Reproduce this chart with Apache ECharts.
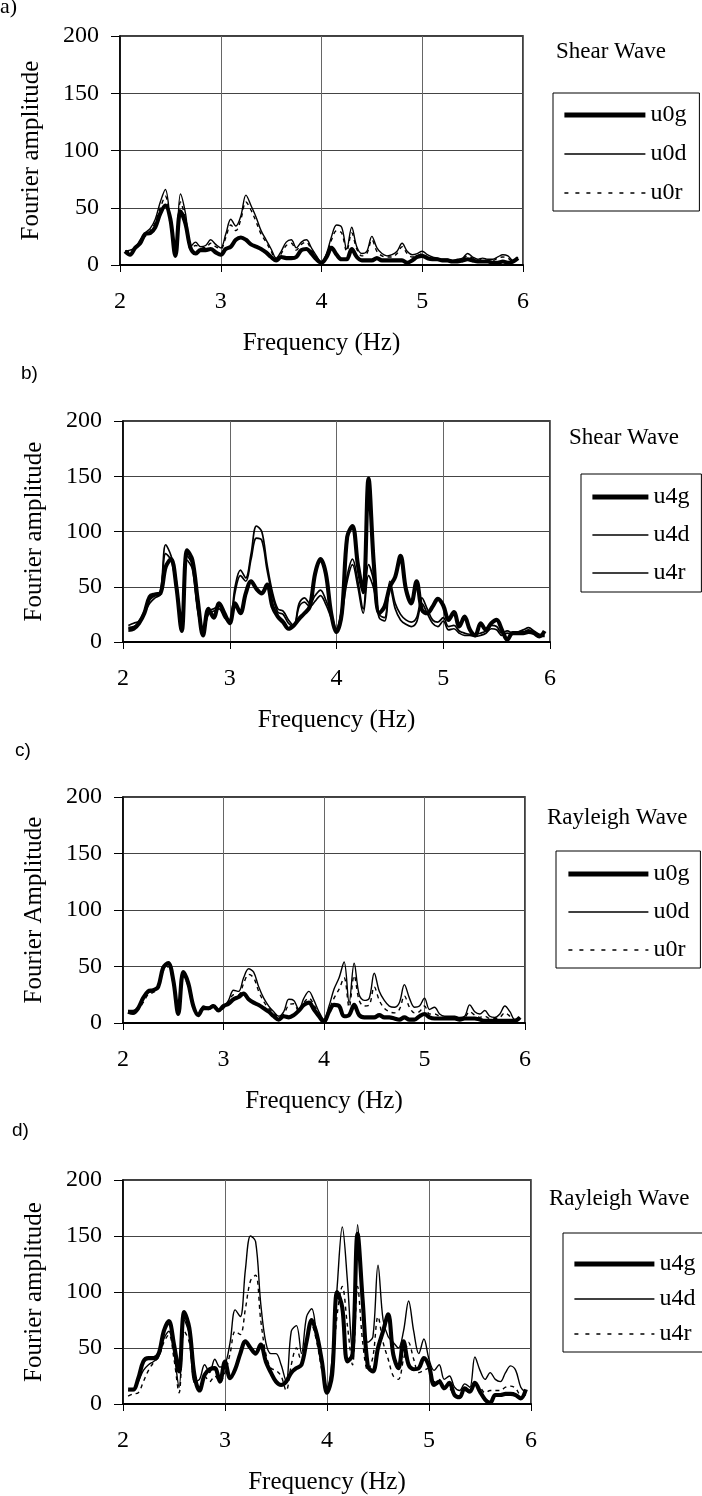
<!DOCTYPE html>
<html>
<head>
<meta charset="utf-8">
<script src="https://cdn.jsdelivr.net/npm/echarts@6/dist/echarts.min.js"></script>
<style>
html,body{margin:0;padding:0;background:#fff;}
#chart{width:702px;height:1496px;}
</style>
</head>
<body>
<div id="chart"></div>
<script>
// ---------------- DATA ----------------
const FREQ = [2.05,2.10,2.15,2.20,2.25,2.30,2.35,2.40,2.45,2.50,2.55,2.60,2.65,2.70,2.75,2.80,2.85,2.90,2.95,3.00,
  3.05,3.10,3.15,3.20,3.25,3.30,3.35,3.40,3.45,3.50,3.55,3.60,3.65,3.70,3.75,3.80,3.85,3.90,3.95,4.00,
  4.05,4.10,4.15,4.20,4.25,4.30,4.35,4.40,4.45,4.50,4.55,4.60,4.65,4.70,4.75,4.80,4.85,4.90,4.95,5.00,
  5.05,5.10,5.15,5.20,5.25,5.30,5.35,5.40,5.45,5.50,5.55,5.60,5.65,5.70,5.75,5.80,5.85,5.90,5.95];

const X_TICKS = [2,3,4,5,6];
const Y_TICKS = [0,50,100,150,200];

// Panel a) Shear wave, surface
const A_U0G = [12,9,15,19,27,28,33,45,52,40,8,47,36,15,10,13,13,14,11,9,
  14,16,22,24,22,18,16,14,11,7,4,7,6,6,7,13,14,10,5,2,
  7,15,9,5,5,14,7,4,4,4,6,4,4,4,4,4,2,4,7,8,
  6,5,5,4,4,3,3,4,5,4,3,3,3,2,2,3,2,3,6];
const A_U0D = [12,13,15,22,28,32,40,55,66,38,8,62,45,16,20,16,17,22,18,15,
  27,40,34,43,61,52,42,30,22,14,6,12,20,22,15,20,22,15,8,2,
  10,25,35,33,14,33,16,10,12,25,15,10,8,9,12,19,12,9,10,12,
  9,7,6,5,5,4,5,6,10,7,5,6,5,5,7,9,8,4,7];
const A_U0R = [12,12,14,20,25,30,37,50,60,34,8,55,40,14,17,16,15,19,16,14,
  24,35,30,40,55,48,38,27,20,12,5,10,17,19,13,18,20,13,7,2,
  9,22,30,28,12,28,14,8,10,22,12,8,7,7,10,16,10,7,8,10,
  7,6,5,4,4,3,4,5,8,6,4,5,4,4,6,7,6,3,6];

// Panel b) Shear wave, depth 4
const B_U4G = [11,12,17,26,41,43,44,68,75,50,10,83,74,38,6,30,22,35,26,17,
  35,26,44,55,48,44,52,32,23,18,12,15,21,26,32,62,75,62,26,9,
  26,95,105,70,45,148,70,26,32,50,59,78,48,35,55,29,26,32,39,33,
  20,27,14,23,11,6,17,11,17,20,11,2,8,8,8,9,8,5,10];
const B_U4D = [15,17,19,28,38,42,45,88,78,55,12,78,70,30,10,28,30,33,25,20,
  50,65,58,80,105,100,70,45,30,28,20,15,35,40,35,42,47,38,25,12,
  30,60,75,55,30,70,55,25,22,55,35,25,20,18,22,40,30,20,18,22,
  14,15,10,8,7,7,8,10,15,14,8,10,8,9,11,13,10,7,6];
const B_U4R = [13,14,17,26,35,40,43,80,74,50,10,74,66,28,9,25,28,30,22,18,
  45,60,55,75,94,92,65,42,27,25,17,14,32,36,32,37,42,34,22,10,
  26,55,70,50,26,60,48,22,19,50,30,20,16,14,18,35,26,17,14,19,
  11,12,8,6,6,5,6,8,12,11,6,8,7,8,9,11,8,5,5];

// Panel c) Rayleigh wave, surface
const C_U0G = [10,9,13,22,28,29,32,49,53,38,8,45,35,15,7,13,13,15,11,15,
  17,21,23,26,21,18,16,13,10,6,3,6,5,7,11,16,18,12,6,1,
  10,16,15,6,7,16,7,5,5,5,7,5,5,4,3,5,3,3,6,8,
  5,4,4,4,4,4,3,4,4,4,3,2,2,2,2,2,2,2,5];
const C_U0D = [11,11,14,22,27,28,32,48,52,36,8,45,33,14,8,15,14,16,12,14,
  20,29,28,40,48,45,32,22,15,10,6,10,21,20,12,22,28,20,10,3,
  15,30,40,54,18,53,25,20,22,44,28,20,15,14,18,34,22,14,15,22,
  12,14,8,6,6,6,5,6,16,10,8,11,6,5,8,15,10,3,5];
const C_U0R = [10,10,12,18,25,27,30,46,50,34,8,42,32,13,8,13,12,14,11,13,
  18,25,25,35,43,40,28,19,13,9,5,8,16,17,10,18,22,16,8,3,
  12,22,30,40,14,42,20,15,16,32,20,13,10,9,12,24,14,9,10,15,
  8,8,6,5,5,5,4,5,10,7,5,6,4,4,5,9,6,3,5];

// Panel d) Rayleigh wave, depth 4
const D_U4G = [13,13,23,38,41,41,45,65,74,53,29,82,68,26,12,26,31,32,20,38,
  23,31,45,56,50,45,53,38,28,20,17,20,28,32,35,56,75,62,38,10,
  26,100,86,38,44,152,92,34,29,50,65,80,44,32,56,35,31,32,41,34,
  17,20,14,19,8,6,14,11,19,11,4,1,8,8,9,9,8,5,13];
const D_U4D = [12,12,20,30,35,38,42,58,65,45,15,75,62,20,22,35,28,40,33,35,
  55,84,78,120,150,145,90,55,45,45,35,20,65,70,45,78,85,60,35,15,
  40,105,158,110,45,160,90,55,60,124,75,60,55,50,65,92,65,45,58,40,
  30,35,22,25,15,12,18,15,42,30,22,28,22,20,28,34,30,15,10];
const D_U4R = [7,9,10,20,30,37,42,55,62,40,10,65,55,18,15,25,20,25,20,28,
  45,65,62,85,110,115,75,45,32,30,25,12,35,50,38,55,70,55,30,12,
  30,80,105,70,35,105,55,30,42,78,55,40,25,22,40,55,40,28,30,32,
  20,22,15,14,8,5,12,10,18,15,10,12,12,12,15,16,14,8,8];

// ---------------- LAYOUT / STYLE ----------------
const SERIF = '"Liberation Serif","Times New Roman",serif';
const SANS = '"Liberation Sans",Arial,sans-serif';
const STYLE = {
  thick: {width: 4.1, type: 'solid', legendWidth: 4.8, legendType: 'solid'},
  thin: {width: 1.4, type: 'solid', legendWidth: 1.4, legendType: 'solid'},
  thin2: {width: 1.7, type: 'solid', legendWidth: 1.6, legendType: 'solid'},
  dash: {width: 1.4, type: [4, 4], legendWidth: 1.6, legendType: [4, 7]}
};

const panels = [
  {tag: 'a)', tagFont: SERIF, tagSize: 22, tagPos: [0, -4],
   wave: 'Shear Wave', wavePos: [556, 40], yName: 'Fourier amplitude',
   grid: {left: 120, top: 36, width: 403, height: 229},
   series: [['u0g', A_U0G, 'thick'], ['u0d', A_U0D, 'thin'], ['u0r', A_U0R, 'dash']],
   legend: {left: 553, top: 93, itemWidth: 81, itemGap: 15, padding: [10, 13, 6, 9]}},
  {tag: 'b)', tagFont: SANS, tagSize: 19, tagPos: [21, 364],
   wave: 'Shear Wave', wavePos: [569, 426], yName: 'Fourier amplitude',
   grid: {left: 123, top: 421, width: 427, height: 221},
   series: [['u4g', B_U4G, 'thick'], ['u4d', B_U4D, 'thin2'], ['u4r', B_U4R, 'thin2']],
   legend: {left: 581, top: 474, itemWidth: 56, itemGap: 14, padding: [11, 12, 7, 9]}},
  {tag: 'c)', tagFont: SANS, tagSize: 19, tagPos: [15, 741],
   wave: 'Rayleigh Wave', wavePos: [547, 806], yName: 'Fourier Amplitude',
   grid: {left: 123, top: 797, width: 402, height: 226},
   series: [['u0g', C_U0G, 'thick'], ['u0d', C_U0D, 'thin'], ['u0r', C_U0R, 'dash']],
   legend: {left: 556, top: 851, itemWidth: 80, itemGap: 14, padding: [11, 11, 6, 10]}},
  {tag: 'd)', tagFont: SANS, tagSize: 19, tagPos: [12, 1121],
   wave: 'Rayleigh Wave', wavePos: [549, 1187], yName: 'Fourier amplitude',
   grid: {left: 123, top: 1180, width: 408, height: 226},
   series: [['u4g', D_U4G, 'thick'], ['u4d', D_U4D, 'thin'], ['u4r', D_U4R, 'dash']],
   legend: {left: 563, top: 1233, itemWidth: 80, itemGap: 11, padding: [19, 11, 6, 9]}}
];

// ---------------- BUILD OPTION ----------------
const option = {
  backgroundColor: '#fff',
  animation: false,
  color: ['#000'],
  grid: [], xAxis: [], yAxis: [], series: [], legend: [], title: []
};

panels.forEach((p, i) => {
  option.grid.push(Object.assign({show: true, borderColor: '#000', borderWidth: 1.5,
    backgroundColor: '#fff', containLabel: false}, p.grid));
  option.xAxis.push({
    type: 'value', gridIndex: i,
    min: X_TICKS[0], max: X_TICKS[X_TICKS.length - 1], interval: X_TICKS[1] - X_TICKS[0],
    name: 'Frequency (Hz)', nameLocation: 'middle', nameGap: 66,
    nameTextStyle: {fontFamily: SERIF, fontSize: 25, color: '#000'},
    axisLine: {show: true, onZero: false, lineStyle: {color: '#000', width: 2}},
    axisTick: {show: true, inside: false, length: 7, lineStyle: {color: '#000', width: 1}},
    axisLabel: {fontFamily: SERIF, fontSize: 24, color: '#000', margin: 25},
    splitLine: {show: true, lineStyle: {color: '#666', width: 1}}
  });
  option.yAxis.push({
    type: 'value', gridIndex: i,
    min: Y_TICKS[0], max: Y_TICKS[Y_TICKS.length - 1], interval: Y_TICKS[1] - Y_TICKS[0],
    name: p.yName, nameLocation: 'middle', nameGap: 76,
    nameTextStyle: {fontFamily: SERIF, fontSize: 25, color: '#000'},
    axisLine: {show: true, lineStyle: {color: '#000', width: 1.5}},
    axisTick: {show: true, inside: false, length: 9, lineStyle: {color: '#000', width: 1}},
    axisLabel: {fontFamily: SERIF, fontSize: 24, color: '#000', margin: 21},
    splitLine: {show: true, lineStyle: {color: '#444', width: 1}}
  });
  p.series.forEach(([name, vals, kind]) => {
    const st = STYLE[kind];
    option.series.push({
      type: 'line', name: name, xAxisIndex: i, yAxisIndex: i,
      data: FREQ.map((f, k) => [f, vals[k]]),
      showSymbol: false, symbol: 'none', symbolSize: 0, smooth: 0.35,
      itemStyle: {color: '#000'},
      lineStyle: {color: '#000', width: st.width, type: st.type},
      z: kind === 'thick' ? 3 : 2
    });
  });
  option.legend.push({
    orient: 'vertical', left: p.legend.left, top: p.legend.top,
    itemWidth: p.legend.itemWidth, itemHeight: 14, itemGap: p.legend.itemGap,
    padding: p.legend.padding, borderColor: '#000', borderWidth: 1,
    backgroundColor: '#fff', selectedMode: false,
    textStyle: {fontFamily: SERIF, fontSize: 24, color: '#000'},
    data: p.series.map(([name, vals, kind]) => ({
      name: name,
      itemStyle: {color: '#000', opacity: 0, borderWidth: 0},
      lineStyle: {color: '#000', width: STYLE[kind].legendWidth, type: STYLE[kind].legendType, opacity: 1}
    }))
  });
  option.title.push({
    text: p.wave, left: p.wavePos[0], top: p.wavePos[1], padding: 0,
    textStyle: {fontFamily: SERIF, fontSize: 23, fontWeight: 'normal', color: '#000'}
  });
  option.title.push({
    text: p.tag, left: p.tagPos[0], top: p.tagPos[1], padding: 0,
    textStyle: {fontFamily: p.tagFont, fontSize: p.tagSize, fontWeight: 'normal', color: '#000'}
  });
});

const chart = echarts.init(document.getElementById('chart'), null, {renderer: 'canvas', width: 702, height: 1496});
chart.setOption(option);
</script>
</body>
</html>
